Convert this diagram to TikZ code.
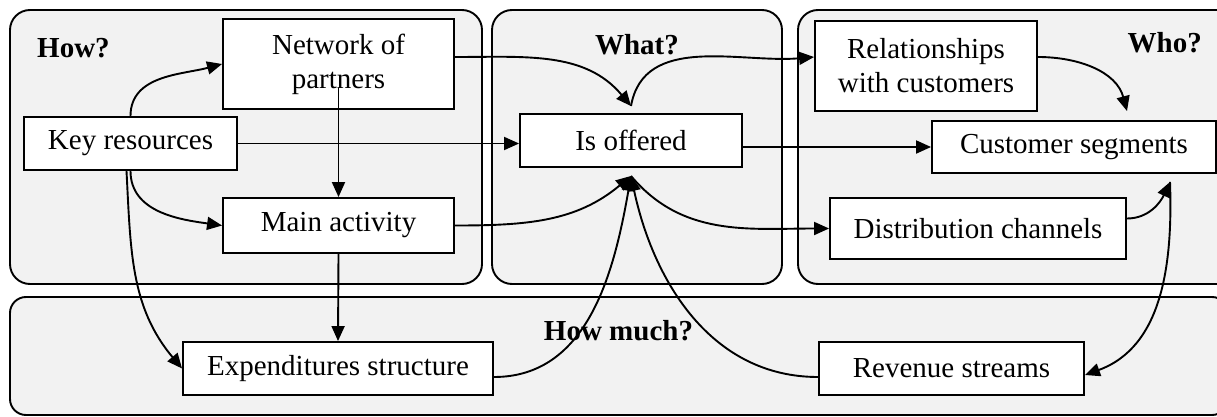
\documentclass[tikz,border=0pt]{standalone}
\usepackage{fontspec}
\setmainfont{Liberation Serif}
\usetikzlibrary{arrows.meta,calc}
\definecolor{panelgray}{HTML}{F2F2F2}
\begin{document}
\begin{tikzpicture}[x=1pt,y=1pt,
  panel/.style={draw=black,line width=1.9pt,fill=panelgray,rounded corners=20pt},
  box/.style={draw=black,line width=1.9pt,fill=white,inner sep=0pt,align=center,
    font=\fontsize{29}{34}\selectfont},
  head/.style={font=\fontsize{29}{34}\selectfont\bfseries,inner sep=0pt},
  conn/.style={line width=1.9pt,-{Triangle[length=15pt,width=13pt]}},
  plain/.style={line width=1.9pt}]
\useasboundingbox (0,0) rectangle (1217,-417);
\clip (0,0) rectangle (1217,-417);
% panels
\path[panel] (10,-10) rectangle (482,-284);
\path[panel] (492,-10) rectangle (782,-284);
\path[panel] (798,-10) rectangle (1245,-284);
\path[panel,rounded corners=16pt] (10,-297) rectangle (1228,-415);
% headings
\node[head,anchor=base west] (hhow) at (37,-58) {How?};
\node[head,anchor=base] (hwhat) at (637,-55) {What?};
\node[head,anchor=base east] (hwho) at (1202,-53) {Who?};
\node[head,anchor=base] (hmuch) at (618.5,-340) {How much?};
% nodes
\node[box,minimum width=231pt,minimum height=90pt] (net) at (338.5,-64) {Network of\\partners};
\node[box,minimum width=213pt,minimum height=53pt] (key) at (130.5,-143.5) {Key resources};
\node[box,minimum width=231pt,minimum height=55pt] (main) at (338.5,-225.5) {Main activity};
\node[box,minimum width=310pt,minimum height=53pt] (exp) at (338,-368.5) {Expenditures structure};
\node[box,minimum width=222pt,minimum height=53pt] (off) at (631,-140.5) {Is offered};
\node[box,minimum width=222pt,minimum height=90pt] (rel) at (926,-66) {Relationships\\with customers};
\node[box,minimum width=284pt,minimum height=52pt] (cust) at (1074,-147) {Customer segments};
\node[box,minimum width=296pt,minimum height=61pt] (dist) at (978,-228.5) {Distribution channels};
\node[box,minimum width=265pt,minimum height=53pt] (rev) at (951.5,-368.5) {Revenue streams};
% junction points
\coordinate (otop) at ($(off.north)+(0,7)$);
\coordinate (obot) at ($(off.south)+(0,-8)$);
\coordinate (ctop) at ($(cust.north)+(53,9)$);
\coordinate (cbot) at ($(cust.south)+(96,-8)$);
% connectors
\draw[conn] (key.north) to[out=90,in=195] (net.west);
\draw[conn] (key.south) to[out=-90,in=172] (main.west);
\draw[conn] ($(key.south)+(-4,0)$) to[out=-87,in=130] (exp.west);
\draw[conn] ($(net.center)+(0,-24)$) -- (main.north);
\draw[conn] (main.south) -- (exp.north);
\draw[conn] (key.east) -- (key.east -| off.west);
\draw[conn] ($(net.east)+(0,7)$) to[out=0,in=130] (otop);
\draw[conn] (otop) to[out=80,in=185] ($(rel.west)+(0,9)$);
\draw[conn] (main.east) to[out=0,in=-140] (obot);
\draw[conn] ($(exp.east)+(0,-8.5)$) to[out=0,in=-100] (obot);
\draw[conn] ($(rev.west)+(0,-8.5)$) to[out=180,in=-78] (obot);
\draw[conn] (obot) to[out=-50,in=180] (dist.west);
\draw[conn] (off.east |- cust.west) -- (cust.west);
\draw[conn] ($(rel.east)+(0,9)$) to[out=0,in=105] (ctop);
\draw[conn] ($(dist.east)+(0,10)$) to[out=0,in=-115] (cbot);
\draw[conn] (cbot) to[out=-88,in=20] ($(rev.east)+(0,-6.5)$);
\end{tikzpicture}
\end{document}
